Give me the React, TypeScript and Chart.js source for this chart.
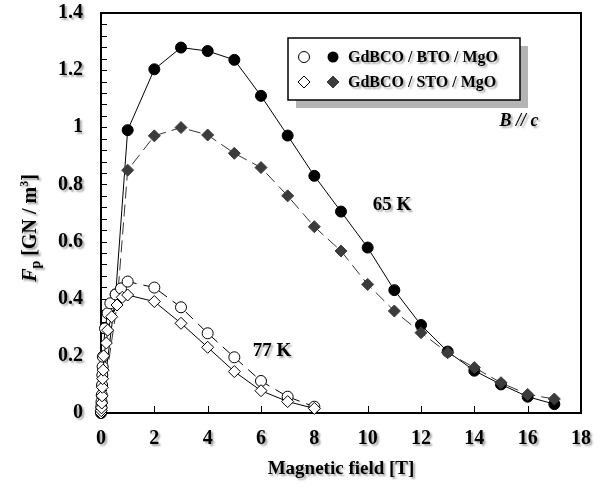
import React, { useEffect, useRef } from 'react';
import { Chart, registerables } from 'chart.js';

Chart.register(...registerables);

// ---- axis ticks ----
const xTicks = [0, 2, 4, 6, 8, 10, 12, 14, 16, 18];
const yTicks = [0, 0.2, 0.4, 0.6, 0.8, 1, 1.2, 1.4];
const yMinorCount = 35; // minor ticks every 0.04

// ---- 65 K, GdBCO/BTO/MgO (filled circles) ----
const bto65X = [0, 0.55, 1, 2, 3, 4, 5, 6, 7, 8, 9, 10, 11, 12, 13, 14, 15, 16, 17];
const bto65Y = [0, 0.415, 0.99, 1.203, 1.279, 1.267, 1.236, 1.11, 0.971, 0.83, 0.705, 0.579, 0.43, 0.308, 0.215, 0.148, 0.1, 0.057, 0.031];

// ---- 65 K, GdBCO/STO/MgO (filled diamonds) ----
const sto65X = [0, 0.6, 1, 2, 3, 4, 5, 6, 7, 8, 9, 10, 11, 12, 13, 14, 15, 16, 17];
const sto65Y = [0, 0.378, 0.85, 0.97, 0.999, 0.973, 0.909, 0.859, 0.76, 0.652, 0.567, 0.45, 0.357, 0.281, 0.211, 0.159, 0.106, 0.065, 0.049];

// ---- 77 K, GdBCO/BTO/MgO (open circles) ----
const bto77X = [0, 0.01, 0.02, 0.03, 0.04, 0.05, 0.06, 0.07, 0.15, 0.25, 0.35, 0.55, 0.75, 1, 2, 3, 4, 5, 6, 7, 8];
const bto77Y = [0.005, 0.022, 0.04, 0.063, 0.098, 0.133, 0.162, 0.197, 0.296, 0.349, 0.384, 0.415, 0.436, 0.46, 0.439, 0.37, 0.279, 0.195, 0.112, 0.057, 0.022];

// ---- 77 K, GdBCO/STO/MgO (open diamonds) ----
const sto77X = [0, 0.01, 0.02, 0.03, 0.04, 0.05, 0.06, 0.08, 0.1, 0.2, 0.25, 0.4, 0.6, 0.8, 1, 2, 3, 4, 5, 6, 7, 8];
const sto77Y = [0, 0.008, 0.018, 0.035, 0.06, 0.09, 0.12, 0.15, 0.2, 0.245, 0.29, 0.337, 0.378, 0.405, 0.413, 0.39, 0.314, 0.23, 0.145, 0.078, 0.04, 0.016];

const legendLabels = ['GdBCO / BTO / MgO', 'GdBCO / STO / MgO'];
const xTitle = 'Magnetic field [T]';

const SERIF = '"Liberation Serif", "Times New Roman", Times, serif';

function pts(xs: number[], ys: number[]) {
  return xs.map((x, i) => ({ x, y: ys[i] }));
}

function setShadow(ctx: CanvasRenderingContext2D) {
  ctx.shadowColor = 'rgba(0,0,0,0.35)';
  ctx.shadowOffsetX = 2;
  ctx.shadowOffsetY = 2;
  ctx.shadowBlur = 2;
}
function clearShadow(ctx: CanvasRenderingContext2D) {
  ctx.shadowColor = 'rgba(0,0,0,0)';
  ctx.shadowOffsetX = 0;
  ctx.shadowOffsetY = 0;
  ctx.shadowBlur = 0;
}

const decorPlugin = {
  id: 'decor',
  beforeDraw(chart: any) {
    setShadow(chart.ctx);
  },
  beforeDatasetsDraw(chart: any) {
    const ctx: CanvasRenderingContext2D = chart.ctx;
    clearShadow(ctx);
    const { left, right, top, bottom } = chart.chartArea;
    const xs = chart.scales.x;
    const ys = chart.scales.y;
    ctx.save();
    ctx.strokeStyle = '#000';
    ctx.lineWidth = 1;
    ctx.beginPath();
    for (let i = 0; i <= yMinorCount; i++) {
      const py = Math.round(ys.getPixelForValue(i * 0.04)) + 0.5;
      ctx.moveTo(left, py);
      ctx.lineTo(left + 6, py);
    }
    for (const v of xTicks) {
      const px = Math.round(xs.getPixelForValue(v)) + 0.5;
      ctx.moveTo(px, bottom);
      ctx.lineTo(px, bottom - 7);
    }
    ctx.stroke();
    ctx.lineWidth = 2;
    ctx.strokeRect(left, top, right - left, bottom - top);
    ctx.restore();
  },
  afterDraw(chart: any) {
    const ctx: CanvasRenderingContext2D = chart.ctx;
    ctx.save();
    // Legend box with shadow
    const bx = 288, by = 38, bw = 232, bh = 62;
    ctx.fillStyle = '#b4b4b4';
    ctx.fillRect(bx + 8, by + 8, bw, bh);
    ctx.fillStyle = '#fff';
    ctx.fillRect(bx, by, bw, bh);
    ctx.strokeStyle = '#000';
    ctx.lineWidth = 1.5;
    ctx.strokeRect(bx, by, bw, bh);

    const rows = [57, 82];
    ctx.lineWidth = 1;
    ctx.beginPath();
    ctx.arc(304, rows[0], 5.5, 0, Math.PI * 2);
    ctx.fillStyle = '#fff';
    ctx.fill();
    ctx.stroke();
    ctx.beginPath();
    ctx.arc(333, rows[0], 5.5, 0, Math.PI * 2);
    ctx.fillStyle = '#000';
    ctx.fill();
    const diamond = (cx: number, cy: number, r: number) => {
      ctx.beginPath();
      ctx.moveTo(cx - r, cy);
      ctx.lineTo(cx, cy - r);
      ctx.lineTo(cx + r, cy);
      ctx.lineTo(cx, cy + r);
      ctx.closePath();
    };
    diamond(304, rows[1], 6);
    ctx.fillStyle = '#fff';
    ctx.fill();
    ctx.stroke();
    diamond(333, rows[1], 6);
    ctx.fillStyle = '#3c3c3c';
    ctx.fill();
    ctx.strokeStyle = '#3c3c3c';
    ctx.stroke();

    setShadow(ctx);
    ctx.fillStyle = '#000';
    ctx.textBaseline = 'middle';
    ctx.textAlign = 'left';
    ctx.font = `bold 16px ${SERIF}`;
    ctx.fillText(legendLabels[0], 348, rows[0] + 1);
    ctx.fillText(legendLabels[1], 348, rows[1] + 1);

    ctx.font = `bold 19px ${SERIF}`;
    ctx.textAlign = 'center';
    ctx.fillText('65 K', 392, 205);
    ctx.fillText('77 K', 272, 351);

    ctx.font = `italic bold 18px ${SERIF}`;
    ctx.fillText('B // c', 519, 121);

    // y-axis title, rotated
    ctx.translate(36, 228);
    ctx.rotate(-Math.PI / 2);
    ctx.textAlign = 'left';
    ctx.textBaseline = 'alphabetic';
    const parts = [
      { t: 'F', f: `italic bold 20px ${SERIF}`, dy: 0 },
      { t: 'p', f: `bold 14px ${SERIF}`, dy: 4 },
      { t: ' [GN / m', f: `bold 20px ${SERIF}`, dy: 0 },
      { t: '3', f: `bold 12px ${SERIF}`, dy: -8 },
      { t: ']', f: `bold 20px ${SERIF}`, dy: 0 },
    ];
    let total = 0;
    for (const p of parts) {
      ctx.font = p.f;
      total += ctx.measureText(p.t).width;
    }
    let cx = -total / 2;
    for (const p of parts) {
      ctx.font = p.f;
      ctx.fillText(p.t, cx, p.dy);
      cx += ctx.measureText(p.t).width;
    }
    ctx.restore();
  },
};

export default function App() {
  const ref = useRef<HTMLCanvasElement | null>(null);

  useEffect(() => {
    if (!ref.current) return;
    const tickFont = { family: SERIF, size: 20, weight: 'bold' as const };
    const chart = new Chart(ref.current, {
      type: 'scatter',
      data: {
        datasets: [
          {
            label: '77 K STO',
            data: pts(sto77X, sto77Y),
            showLine: true,
            borderColor: '#000',
            borderWidth: 1,
            pointStyle: 'rectRot',
            pointRadius: 6,
            pointBackgroundColor: '#fff',
            pointBorderColor: '#000',
            pointBorderWidth: 1,
            clip: false as any,
          },
          {
            label: '77 K BTO',
            data: pts(bto77X, bto77Y),
            showLine: true,
            borderColor: '#000',
            borderWidth: 1,
            borderDash: [10, 7],
            pointStyle: 'circle',
            pointRadius: 5.5,
            pointBackgroundColor: '#fff',
            pointBorderColor: '#000',
            pointBorderWidth: 1,
            clip: false as any,
          },
          {
            label: '65 K STO',
            data: pts(sto65X, sto65Y),
            showLine: true,
            borderColor: '#333',
            borderWidth: 1,
            borderDash: [12, 6],
            pointStyle: 'rectRot',
            pointRadius: 6,
            pointBackgroundColor: '#3c3c3c',
            pointBorderColor: '#3c3c3c',
            pointBorderWidth: 1,
            clip: false as any,
          },
          {
            label: '65 K BTO',
            data: pts(bto65X, bto65Y),
            showLine: true,
            borderColor: '#000',
            borderWidth: 1,
            pointStyle: 'circle',
            pointRadius: 5.5,
            pointBackgroundColor: '#000',
            pointBorderColor: '#000',
            pointBorderWidth: 1,
            clip: false as any,
          },
        ],
      },
      options: {
        responsive: false,
        animation: false,
        events: [],
        layout: { padding: { top: 13, right: 25, left: 0, bottom: 0 } },
        plugins: {
          legend: { display: false },
          tooltip: { enabled: false },
          title: { display: false },
        },
        scales: {
          x: {
            type: 'linear',
            min: 0,
            max: 18,
            afterBuildTicks: (s: any) => {
              s.ticks = xTicks.map((v) => ({ value: v }));
            },
            ticks: {
              color: '#000',
              font: tickFont,
              padding: 14,
              maxRotation: 0,
              autoSkip: false,
              callback: (v: any) => String(v),
            },
            grid: { display: false, drawTicks: false },
            border: { display: false },
            title: {
              display: true,
              text: xTitle,
              color: '#000',
              font: { family: SERIF, size: 19, weight: 'bold' },
              padding: { top: 0, bottom: 8 },
            },
            afterFit: (s: any) => {
              s.height = 75;
              s.paddingLeft = 0;
              s.paddingRight = 0;
            },
          },
          y: {
            type: 'linear',
            min: 0,
            max: 1.4,
            afterBuildTicks: (s: any) => {
              s.ticks = yTicks.map((v) => ({ value: v }));
            },
            ticks: {
              color: '#000',
              font: tickFont,
              padding: 18,
              autoSkip: false,
              callback: (v: any) => String(Math.round(Number(v) * 10) / 10),
            },
            grid: { display: false, drawTicks: false },
            border: { display: false },
            afterFit: (s: any) => {
              s.width = 101;
              s.paddingTop = 0;
              s.paddingBottom = 0;
            },
          },
        },
      },
      plugins: [decorPlugin],
    });
    return () => chart.destroy();
  }, []);

  return (
    <div style={{ position: 'absolute', left: 0, top: 0, width: 606, height: 488, background: '#fff' }}>
      <canvas ref={ref} width={606} height={488} style={{ display: 'block', width: 606, height: 488 }} />
    </div>
  );
}
